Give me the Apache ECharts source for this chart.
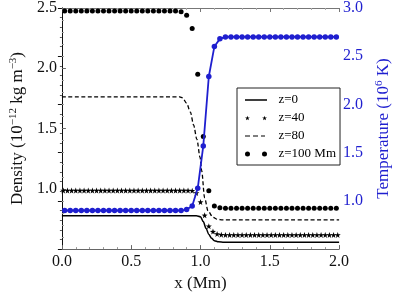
<!DOCTYPE html>
<html>
<head>
<meta charset="utf-8">
<script src="https://cdn.jsdelivr.net/npm/echarts@6/dist/echarts.min.js"></script>
<style>
  html, body { margin: 0; padding: 0; background: #fff; }
  #main { width: 400px; height: 297px; }
</style>
</head>
<body>
<div id="main"></div>
<script>
// sample positions (Mm)
const xDots = [0.02, 0.06, 0.10, 0.14, 0.18, 0.22, 0.26, 0.30, 0.34, 0.38, 0.42, 0.46, 0.50,
  0.54, 0.58, 0.62, 0.66, 0.70, 0.74, 0.78, 0.82, 0.86, 0.90, 0.94, 0.98,
  1.02, 1.06, 1.10, 1.14, 1.18, 1.22, 1.26, 1.30, 1.34, 1.38, 1.42, 1.46, 1.50,
  1.54, 1.58, 1.62, 1.66, 1.70, 1.74, 1.78, 1.82, 1.86, 1.90, 1.94, 1.98];

const xStars = [0.01, 0.04, 0.07, 0.10, 0.13, 0.16, 0.19, 0.22, 0.25, 0.28, 0.31, 0.34, 0.37,
  0.40, 0.43, 0.46, 0.49, 0.52, 0.55, 0.58, 0.61, 0.64, 0.67, 0.70, 0.73, 0.76, 0.79,
  0.82, 0.85, 0.88, 0.91, 0.94, 0.97, 1.00, 1.03, 1.06, 1.09, 1.12, 1.15, 1.18, 1.21,
  1.24, 1.27, 1.30, 1.33, 1.36, 1.39, 1.42, 1.45, 1.48, 1.51, 1.54, 1.57, 1.60, 1.63,
  1.66, 1.69, 1.72, 1.75, 1.78, 1.81, 1.84, 1.87, 1.90, 1.93, 1.96, 1.99];

// z=0 (solid) and z=80 (dashed) density, 10^-12 kg m^-3
const xZ0 = [0, 0.97, 1.00, 1.02, 1.04, 1.06, 1.08, 1.10, 1.13, 1.17, 2.0];
const rho0 = [0.777, 0.777, 0.768, 0.728, 0.672, 0.622, 0.59, 0.57, 0.56, 0.557, 0.557];

const xZ80 = [0, 0.85, 0.87, 0.90, 0.927, 0.95, 0.974, 0.997, 1.008, 1.03, 1.054, 1.09, 1.12, 1.16, 2.0];
const rho80 = [1.762, 1.762, 1.755, 1.71, 1.637, 1.53, 1.41, 1.26, 1.153, 0.924, 0.817, 0.764, 0.748, 0.742, 0.742];

// z=40 (stars)
const rho40 = [0.986, 0.986, 0.986, 0.986, 0.986, 0.986, 0.986, 0.986, 0.986, 0.986, 0.986,
  0.986, 0.986, 0.986, 0.986, 0.986, 0.986, 0.986, 0.986, 0.986, 0.986, 0.986, 0.986,
  0.986, 0.986, 0.986, 0.986, 0.986, 0.986, 0.986, 0.986,
  0.984, 0.965, 0.89, 0.78, 0.69, 0.645, 0.626, 0.619,
  0.617, 0.617, 0.617, 0.617, 0.617, 0.617, 0.617, 0.617, 0.617, 0.617, 0.617, 0.617,
  0.617, 0.617, 0.617, 0.617, 0.617, 0.617, 0.617, 0.617, 0.617, 0.617, 0.617, 0.617,
  0.617, 0.617, 0.617, 0.617];

// z=100 Mm (big dots)
const rho100 = [2.475, 2.475, 2.475, 2.475, 2.475, 2.475, 2.475, 2.475, 2.475, 2.475, 2.475,
  2.475, 2.475, 2.475, 2.475, 2.475, 2.475, 2.475, 2.475, 2.475, 2.475,
  2.468, 2.44, 2.33, 1.95, 1.435, 0.984, 0.857, 0.842,
  0.838, 0.838, 0.838, 0.838, 0.838, 0.838, 0.838, 0.838, 0.838, 0.838, 0.838,
  0.838, 0.838, 0.838, 0.838, 0.838, 0.838, 0.838, 0.838, 0.838, 0.838, 0.838];

// temperature, 10^6 K (blue, right axis)
const temp = [0.9, 0.9, 0.9, 0.9, 0.9, 0.9, 0.9, 0.9, 0.9, 0.9, 0.9,
  0.9, 0.9, 0.9, 0.9, 0.9, 0.9, 0.9, 0.9, 0.9, 0.9,
  0.9, 0.91, 0.947, 1.13, 1.57, 2.29, 2.60, 2.68, 2.70,
  2.70, 2.70, 2.70, 2.70, 2.70, 2.70, 2.70, 2.70, 2.70, 2.70,
  2.70, 2.70, 2.70, 2.70, 2.70, 2.70, 2.70, 2.70, 2.70, 2.70];

const FONT = '"Liberation Serif", "DejaVu Serif", serif';
const BLUE = '#1f1fcf';
const STAR = 'path://M5,0 L6.2,3.4 L9.8,3.5 L6.9,5.7 L7.9,9.1 L5,7 L2.1,9.1 L3.1,5.7 L0.2,3.5 L3.8,3.4 Z';
const STAR_PAIR = 'path://M2.5,0 L3.1,1.7 L4.9,1.75 L3.45,2.85 L3.95,4.55 L2.5,3.5 L1.05,4.55 L1.55,2.85 L0.1,1.75 L1.9,1.7 Z' +
  'M19.5,0 L20.1,1.7 L21.9,1.75 L20.45,2.85 L20.95,4.55 L19.5,3.5 L18.05,4.55 L18.55,2.85 L17.1,1.75 L18.9,1.7 Z';
const DOT_PAIR = 'path://M0,2.5a2.5,2.5 0 1,0 5,0a2.5,2.5 0 1,0 -5,0Z M17,2.5a2.5,2.5 0 1,0 5,0a2.5,2.5 0 1,0 -5,0Z';
// tiny corner marks keep the icon box at 22x5 so the stroke stays thin
const SOLID_ICON = 'path://M0,0 L0.01,0 L0.01,0.01Z M0,1.8 L22,1.8 L22,3.2 L0,3.2 Z M21.99,5 L22,5 L22,4.99Z';
const DASH_ICON = 'path://M0,0 L0.01,0 L0.01,0.01Z M0,1.9 L5,1.9 L5,3.1 L0,3.1Z M8,1.9 L13,1.9 L13,3.1 L8,3.1Z' +
  ' M16,1.9 L20,1.9 L20,3.1 L16,3.1Z M21.99,5 L22,5 L22,4.99Z';

const zip = (xs, ys) => xs.map((x, i) => [x, ys[i]]);

function richName(color) {
  return {
    a: { fontFamily: FONT, fontSize: 17, color: color, verticalAlign: 'bottom' },
    s: { fontFamily: FONT, fontSize: 11, color: color, verticalAlign: 'bottom', padding: [0, 0, 7, 0] }
  };
}

const chart = echarts.init(document.getElementById('main'));

const option = {
  animation: false,
  backgroundColor: '#fff',
  grid: { left: 56, right: 55, top: 8, bottom: 41 },
  legend: {
    orient: 'vertical',
    left: 237,
    top: 88,
    itemWidth: 22,
    itemHeight: 5,
    itemGap: 4,
    padding: [5, 4, 4, 8],
    backgroundColor: '#fff',
    borderColor: '#222',
    borderWidth: 1,
    selectedMode: false,
    formatter: (n) => '  ' + n,
    textStyle: { fontFamily: FONT, fontSize: 13, color: '#000', lineHeight: 14 },
    data: [
      { name: 'z=0', icon: SOLID_ICON },
      { name: 'z=40', icon: STAR_PAIR },
      { name: 'z=80', icon: DASH_ICON },
      { name: 'z=100 Mm', icon: DOT_PAIR }
    ]
  },
  xAxis: [
    {
      type: 'value', min: 0, max: 2, interval: 0.5,
      axisLine: { lineStyle: { color: '#666' } },
      axisTick: { inside: true, length: 4, lineStyle: { color: '#666' } },
      minorTick: { show: true, splitNumber: 5, length: 2, lineStyle: { color: '#999' } },
      splitLine: { show: false },
      axisLabel: { formatter: (v) => v.toFixed(1), fontFamily: FONT, fontSize: 16, color: '#111', margin: 5 },
      name: 'x (Mm)', nameLocation: 'middle', nameGap: 15,
      nameTextStyle: { fontFamily: FONT, fontSize: 17, color: '#111' }
    },
    {
      type: 'value', min: 0, max: 2, interval: 0.5, position: 'top',
      axisLine: { lineStyle: { color: '#777' } },
      axisTick: { inside: true, length: 4, lineStyle: { color: '#777' } },
      minorTick: { show: true, splitNumber: 5, length: 2, lineStyle: { color: '#aaa' } },
      splitLine: { show: false },
      axisLabel: { show: false }
    }
  ],
  yAxis: [
    {
      type: 'value', min: 0.5, max: 2.5, interval: 0.5, position: 'left',
      axisLine: { show: true, lineStyle: { color: '#666' } },
      axisTick: { inside: true, length: 4, lineStyle: { color: '#666' } },
      minorTick: { show: true, splitNumber: 5, length: 2, lineStyle: { color: '#999' } },
      splitLine: { show: false },
      axisLabel: { showMinLabel: false, formatter: (v) => v.toFixed(1), fontFamily: FONT, fontSize: 16, color: '#111', margin: 5 },
      name: '{a|Density (10}{s|\u221212}{a| kg m}{s|\u22123}{a|)}',
      nameLocation: 'middle', nameGap: 33,
      nameTextStyle: { rich: richName('#111') }
    },
    {
      type: 'value', min: 0.5, max: 3.0, interval: 0.5, position: 'right',
      axisLine: { show: true, lineStyle: { color: '#111' } },
      axisTick: { inside: true, length: 4, lineStyle: { color: '#111' } },
      minorTick: { show: true, splitNumber: 5, length: 2, lineStyle: { color: '#555' } },
      splitLine: { show: false },
      axisLabel: { showMinLabel: false, formatter: (v) => v.toFixed(1), fontFamily: FONT, fontSize: 16, color: BLUE, margin: 4 },
      name: '{a|Temperature (10}{s|6}{a| K)}',
      nameLocation: 'middle', nameGap: 33,
      nameTextStyle: { rich: richName(BLUE) }
    }
  ],
  series: [
    {
      name: 'z=0', type: 'line', yAxisIndex: 0,
      data: zip(xZ0, rho0),
      symbol: 'none', smooth: 0.3, smoothMonotone: 'x',
      lineStyle: { color: '#000', width: 1.5 },
      itemStyle: { color: '#000' }
    },
    {
      name: 'z=40', type: 'scatter', yAxisIndex: 0,
      data: zip(xStars, rho40),
      symbol: STAR, symbolSize: 6,
      itemStyle: { color: '#000', opacity: 1 }
    },
    {
      name: 'z=80', type: 'line', yAxisIndex: 0,
      data: zip(xZ80, rho80),
      symbol: 'none', smooth: 0.3, smoothMonotone: 'x',
      lineStyle: { color: '#000', width: 1.3, type: [4, 2.5] },
      itemStyle: { color: '#000' }
    },
    {
      name: 'z=100 Mm', type: 'scatter', yAxisIndex: 0,
      data: zip(xDots, rho100),
      symbol: 'circle', symbolSize: 5,
      itemStyle: { color: '#000', opacity: 1 }
    },
    {
      name: 'T', type: 'line', yAxisIndex: 1,
      data: zip(xDots, temp),
      symbol: 'circle', symbolSize: 5.5, showAllSymbol: true,
      lineStyle: { color: BLUE, width: 1.8 },
      itemStyle: { color: BLUE }
    }
  ]
};

chart.setOption(option);
</script>
</body>
</html>
